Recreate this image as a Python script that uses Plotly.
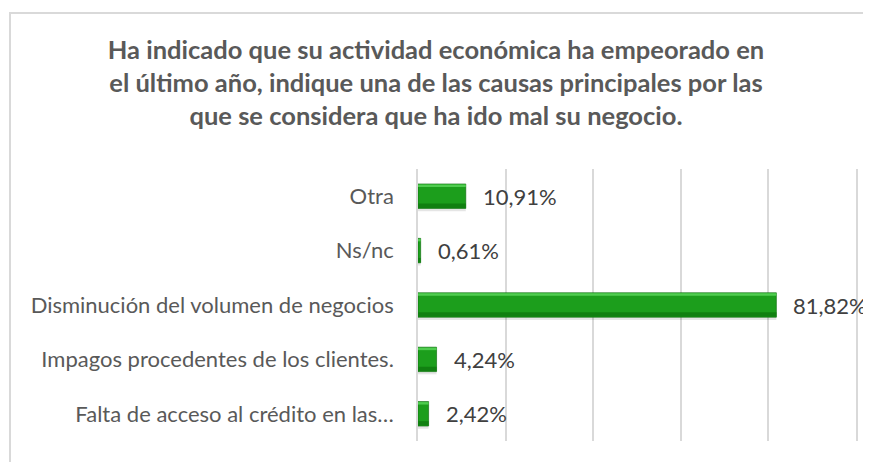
import plotly.graph_objects as go

# ---- data (bottom to top, as drawn) ----
categories = [
    "Falta de acceso al crédito en las…",
    "Impagos procedentes de los clientes.",
    "Disminución del volumen de negocios",
    "Ns/nc",
    "Otra",
]
values = [2.42, 4.24, 81.82, 0.61, 10.91]
x_ticks = [0, 20, 40, 60, 80, 100]
title_text = ("Ha indicado que su actividad económica ha empeorado en<br>"
              "el último año, indique una de las causas principales por las<br>"
              "que se considera que ha ido mal su negocio.")

labels = [f"{v:.2f}%".replace(".", ",") for v in values]

FONT = "Lato, 'Open Sans', sans-serif"
BAR_W = 0.45

fig = go.Figure()
# soft shadow under bars
fig.add_trace(go.Bar(y=categories, x=values, orientation="h", width=BAR_W,
                     offset=-BAR_W / 2 - 0.05,
                     marker=dict(color="rgba(0,0,0,0.10)", line=dict(width=0)),
                     hoverinfo="skip", showlegend=False))
# main bar body
fig.add_trace(go.Bar(y=categories, x=values, orientation="h", width=BAR_W,
                     offset=-BAR_W / 2,
                     marker=dict(color="#1c9e1c", line=dict(color="#0b6a0b", width=0.6)),
                     showlegend=False))
# darker lower bevel
fig.add_trace(go.Bar(y=categories, x=values, orientation="h", width=0.08,
                     offset=-BAR_W / 2 + 0.01,
                     marker=dict(color="#118011", line=dict(width=0)),
                     hoverinfo="skip", showlegend=False))
# lighter upper bevel
fig.add_trace(go.Bar(y=categories, x=values, orientation="h", width=0.045,
                     offset=BAR_W / 2 - 0.055,
                     marker=dict(color="#4fcc4f", line=dict(width=0)),
                     hoverinfo="skip", showlegend=False))

annotations = []
for c, v, t in zip(categories, values, labels):
    annotations.append(dict(x=v, y=c, xref="x", yref="y", text=t, showarrow=False,
                            xanchor="left", yanchor="middle", xshift=15,
                            font=dict(family=FONT, size=22, color="#404040")))

# the page body adds an 8px offset; compensate so the screen positions match
OFF = 8
W, H = 871, 462
L, T = 418 - OFF, 169 - OFF
R = (W + OFF) - 856
B = (H + OFF) - 441
pw, ph = W - L - R, H - T - B
# outer chart border (light grey), partly cut off at right/bottom
bx0 = (10 - OFF - L) / pw
by1 = (H - B - (13 - OFF)) / ph

fig.update_layout(
    width=W, height=H,
    margin=dict(l=L, r=R, t=T, b=B),
    paper_bgcolor="white", plot_bgcolor="white",
    barmode="overlay",
    title=dict(text=title_text, x=(436 - OFF) / W, xref="container", xanchor="center",
               y=1 - (59 - OFF) / H, yref="container", yanchor="top",
               font=dict(family=FONT, size=25.5, color="#595959", weight="bold")),
    xaxis=dict(range=[0, 100], tickvals=x_ticks, showticklabels=False,
               showgrid=True, gridcolor="#d9d9d9", gridwidth=1.5,
               zeroline=False, showline=False, fixedrange=True),
    yaxis=dict(categoryorder="array", categoryarray=categories,
               showgrid=False, zeroline=False,
               showline=True, mirror=True, linecolor="#d9d9d9", linewidth=1.5,
               ticks="outside", ticklen=18, tickcolor="rgba(0,0,0,0)",
               tickfont=dict(family=FONT, size=22, color="#595959")),
    annotations=annotations,
    shapes=[dict(type="rect", xref="paper", yref="paper",
                 x0=bx0, x1=1.2, y0=-0.3, y1=by1,
                 line=dict(color="#d9d9d9", width=2), fillcolor="rgba(0,0,0,0)",
                 layer="below")],
    showlegend=False,
)

fig.write_html("out.html")
